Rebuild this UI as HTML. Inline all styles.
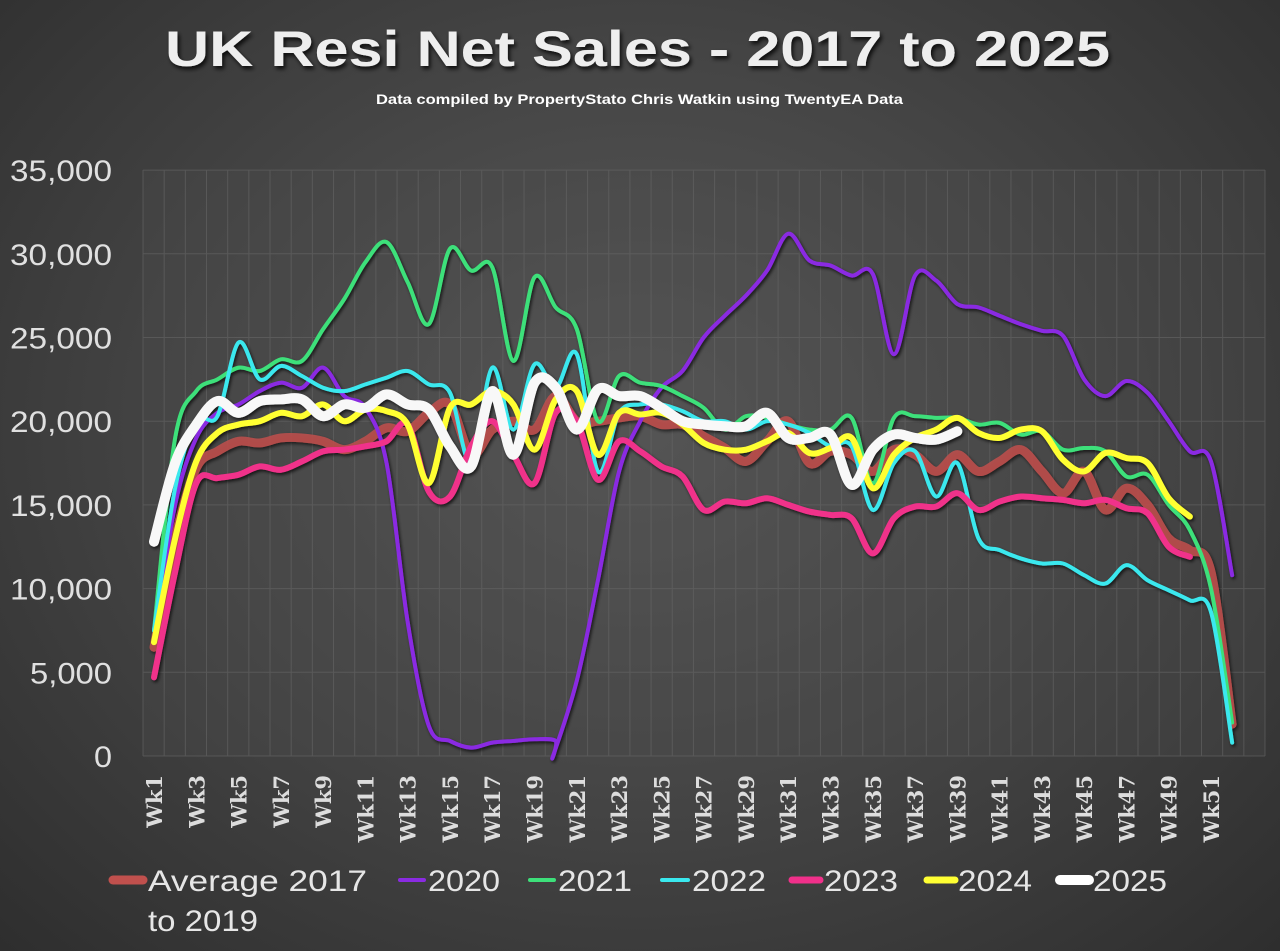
<!DOCTYPE html>
<html><head><meta charset="utf-8">
<style>
html,body{margin:0;padding:0;}
body{width:1280px;height:951px;overflow:hidden;background:radial-gradient(ellipse at 50% 45%,#5a5a5a 0%,#474747 45%,#2e2e2e 100%);}
svg{position:absolute;left:0;top:0;}
</style></head><body>
<svg id="s" width="1280" height="951" xmlns="http://www.w3.org/2000/svg">
<defs>
<filter id="sh" x="-5%" y="-5%" width="110%" height="110%"><feDropShadow dx="1.5" dy="2" stdDeviation="1.5" flood-color="#000" flood-opacity="0.7"/></filter>
<filter id="ts"><feDropShadow dx="2" dy="3" stdDeviation="2" flood-color="#000" flood-opacity="0.8"/></filter>
</defs>
<rect x="143" y="170" width="1122" height="586" fill="#4a4a4a" opacity="0.35"/>
<g id="grid" stroke="#666" stroke-width="1" opacity="0.6"></g>
<text x="165" y="66" textLength="945" lengthAdjust="spacingAndGlyphs" font-family="Liberation Sans, sans-serif" font-weight="bold" font-size="50" fill="#eeeeee" filter="url(#ts)">UK  Resi Net Sales - 2017 to 2025</text>
<text x="376" y="104" textLength="527" lengthAdjust="spacingAndGlyphs" font-family="Liberation Sans, sans-serif" font-weight="bold" font-size="14" fill="#ffffff">Data compiled by PropertyStato Chris Watkin using TwentyEA Data</text>
<g id="ylab" font-family="Liberation Sans, sans-serif" font-size="30" fill="#e0e0e0"></g>
<g id="xlab" font-family="DejaVu Serif, serif" font-weight="bold" font-size="21" fill="#dddddd"></g>
<g id="lines" fill="none" stroke-linecap="round" stroke-linejoin="round" filter="url(#sh)"></g>
<g font-family="Liberation Sans, sans-serif" font-size="30" fill="#e6e6e6">
<line x1="113" y1="880" x2="143" y2="880" stroke="#c0504d" stroke-width="9" stroke-linecap="round"/>
<text x="148" y="891" textLength="219" lengthAdjust="spacingAndGlyphs">Average 2017</text><text x="148" y="931" textLength="110" lengthAdjust="spacingAndGlyphs">to 2019</text>
<line x1="400" y1="880" x2="424" y2="880" stroke="#8a2be2" stroke-width="4" stroke-linecap="round"/>
<text x="428" y="891" textLength="72" lengthAdjust="spacingAndGlyphs">2020</text>
<line x1="530" y1="880" x2="554" y2="880" stroke="#3de07a" stroke-width="4" stroke-linecap="round"/>
<text x="558" y="891" textLength="74" lengthAdjust="spacingAndGlyphs">2021</text>
<line x1="662" y1="880" x2="688" y2="880" stroke="#3ae8ee" stroke-width="4" stroke-linecap="round"/>
<text x="692" y="891" textLength="74" lengthAdjust="spacingAndGlyphs">2022</text>
<line x1="792" y1="880" x2="820" y2="880" stroke="#f0308a" stroke-width="7" stroke-linecap="round"/>
<text x="824" y="891" textLength="74" lengthAdjust="spacingAndGlyphs">2023</text>
<line x1="927" y1="880" x2="955" y2="880" stroke="#ffff33" stroke-width="7" stroke-linecap="round"/>
<text x="958" y="891" textLength="74" lengthAdjust="spacingAndGlyphs">2024</text>
<line x1="1060" y1="880" x2="1089" y2="880" stroke="#ffffff" stroke-width="10" stroke-linecap="round"/>
<text x="1093" y="891" textLength="74" lengthAdjust="spacingAndGlyphs">2025</text>
</g>
</svg>
<script>
var NS="http://www.w3.org/2000/svg";
function el(t,a,p,txt){var e=document.createElementNS(NS,t);for(var k in a)e.setAttribute(k,a[k]);if(txt)e.textContent=txt;p.appendChild(e);return e;}
var g=document.getElementById('grid');
for(var i=0;i<=53;i++){var x=143+i*21.17;el('line',{x1:x,y1:170,x2:x,y2:756},g);}
for(var j=0;j<=7;j++){var y=756-j*83.7;el('line',{x1:143,y1:y,x2:1265,y2:y},g);}
var yl=document.getElementById('ylab');
var labs=["0","5,000","10,000","15,000","20,000","25,000","30,000","35,000"];
var wl=[18,82,102,102,102,102,102,102];
for(var j=0;j<=7;j++){el('text',{x:112-wl[j],y:756-j*83.7+11,textLength:wl[j],lengthAdjust:'spacingAndGlyphs'},yl,labs[j]);}
var xl=document.getElementById('xlab');
for(var k=1;k<=51;k+=2){var cx=154+(k-1)*21.14+8;el('text',{x:0,y:0,transform:'translate('+cx+',775) rotate(-90)','text-anchor':'end'},xl,'Wk'+k);}
function X(k){return 154+(k-1)*21.14;}function Y(v){return 756-16.74*v;}
function path(pts){var d='M'+pts[0][0]+','+pts[0][1];for(var i=0;i<pts.length-1;i++){var p0=pts[i-1]||pts[i],p1=pts[i],p2=pts[i+1],p3=pts[i+2]||p2;var t=6;d+=' C'+(p1[0]+(p2[0]-p0[0])/t)+','+(p1[1]+(p2[1]-p0[1])/t)+' '+(p2[0]-(p3[0]-p1[0])/t)+','+(p2[1]-(p3[1]-p1[1])/t)+' '+p2[0]+','+p2[1];}return d;}
function ser(vals){return vals.map(function(v,i){return [X(i+1),Y(v)];});}
var L=document.getElementById('lines');
var avg=[6.5,13,17.2,18.2,18.8,18.7,19,19,18.8,18.3,18.8,19.6,19.4,20.5,21,18,19.5,20,19.5,21.5,20,20,20.2,20.3,19.8,19.8,19.1,18.4,17.6,18.8,20,17.5,18.2,18,17,18.3,18,17,18,17,17.6,18.3,17,15.7,17,14.7,16,15,13,12.3,11,1.9];
var p20=[7,15,19,20.5,21,21.8,22.3,22,23.2,21.5,20.8,17.5,8,1.8,0.9,0.5,0.8,0.9,1.0,0.9,4.5,10.5,17,20,22,23,25,26.3,27.5,29,31.2,29.6,29.3,28.7,28.8,24,28.7,28.4,27,26.8,26.3,25.8,25.4,25.1,22.5,21.5,22.4,21.7,20,18.2,17.6,10.8];
var p21=[7.5,19,21.8,22.5,23.2,23,23.7,23.6,25.5,27.3,29.5,30.7,28.3,25.8,30.3,29,29.2,23.6,28.6,26.8,25.5,20,22.7,22.3,22.1,21.5,20.8,19.5,20.3,20.2,19.8,19.5,19.5,20.2,16.3,20.2,20.3,20.2,20.2,19.8,19.9,19.2,19.4,18.3,18.4,18.2,16.7,16.8,15,13.5,10,2];
var p22=[7.5,16,20,20.3,24.7,22.5,23.3,22.7,22,21.8,22.2,22.6,23,22.2,21.7,17.5,23.2,19.5,23.4,22,24,17,20.5,21,21,20.6,20,20,19.5,20,19.8,19.3,18.5,18.5,14.7,17.5,18.2,15.5,17.5,13,12.3,11.8,11.5,11.5,10.8,10.3,11.4,10.5,9.9,9.3,8.6,0.8];
var p23=[4.7,11,16.3,16.6,16.8,17.3,17.1,17.6,18.2,18.3,18.5,18.8,19.8,15.8,15.5,18.5,20,18,16.3,20.5,20,16.5,18.8,18.2,17.3,16.7,14.7,15.2,15.1,15.4,15,14.6,14.4,14.2,12.1,14.2,14.9,14.9,15.7,14.7,15.2,15.5,15.4,15.3,15.1,15.3,14.8,14.5,12.5,11.9];
var p24=[6.8,13,17.6,19.3,19.8,20,20.5,20.3,21,20,20.7,20.6,19.8,16.3,20.8,21,21.8,21,18.3,21.3,21.8,18,20.5,20.4,20.5,19.8,18.7,18.3,18.3,18.8,19.3,18.1,18.4,19,16,18,19,19.5,20.2,19.3,19,19.5,19.4,17.7,17,18.1,17.8,17.5,15.4,14.3];
var p25=[12.8,17.5,19.8,21.2,20.5,21.2,21.3,21.3,20.3,21,20.8,21.6,21,20.7,18.5,17.3,21.8,18,22.3,22,19.5,21.9,21.5,21.5,20.8,20,19.8,19.7,19.7,20.5,19,19,19.2,16.2,18.3,19.2,19,18.9,19.4];
var s20=ser(p20);s20.splice(20,0,[553,Y(0)]);
var defs=[[ser(avg),'#c0504d',9,0.85],[s20,'#8a2be2',4,1],[ser(p21),'#3de07a',4,1],[ser(p22),'#3ae8ee',4,1],[ser(p23),'#f0308a',6,1],[ser(p24),'#ffff33',6,1],[ser(p25),'#f8f8f8',10,1]];
defs.forEach(function(d){el('path',{d:path(d[0]),stroke:d[1],'stroke-width':d[2],opacity:d[3]},L);});
</script>
</body></html>
